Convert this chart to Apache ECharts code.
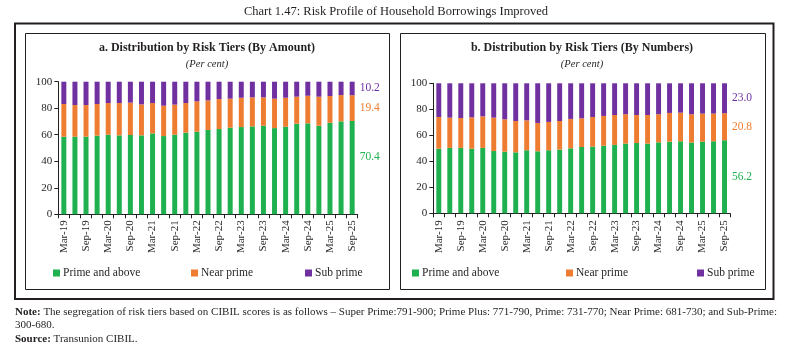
<!DOCTYPE html>
<html>
<head>
<meta charset="utf-8">
<script src="https://cdn.jsdelivr.net/npm/echarts@6/dist/echarts.min.js"></script>
<style>
html,body{margin:0;padding:0;background:#fff;}
#chart{width:792px;height:357px;}
</style>
</head>
<body>
<div id="chart"></div>
<script>
// ---- Data ----
const categories = [
  'Mar-19','Jun-19','Sep-19','Dec-19',
  'Mar-20','Jun-20','Sep-20','Dec-20',
  'Mar-21','Jun-21','Sep-21','Dec-21',
  'Mar-22','Jun-22','Sep-22','Dec-22',
  'Mar-23','Jun-23','Sep-23','Dec-23',
  'Mar-24','Jun-24','Sep-24','Dec-24',
  'Mar-25','Jun-25','Sep-25'
];
const seriesNames = ['Prime and above', 'Near prime', 'Sub prime'];

// Panel a: by amount (per cent)
const amountPrime = [58.5,58.5,58.5,59.3,60.0,59.5,59.8,59.5,61.0,59.0,60.0,61.6,62.3,63.6,64.3,65.3,65.8,66.3,66.8,65.0,66.0,68.3,68.6,66.8,69.0,70.1,70.4];
const amountNear  = [24.7,23.9,23.9,23.9,23.9,24.4,24.4,23.4,22.9,22.9,22.7,22.3,22.9,22.3,22.6,21.9,22.1,21.9,21.4,22.2,21.9,20.4,20.8,21.9,20.2,19.8,19.4];
const amountSub   = [16.8,17.6,17.6,16.8,16.1,16.1,15.8,17.1,16.1,18.1,17.3,16.1,14.8,14.1,13.1,12.8,12.1,11.8,11.8,12.8,12.1,11.3,10.6,11.3,10.8,10.1,10.2];

// Panel b: by numbers (per cent)
const numberPrime = [49.7,50.3,50.3,49.7,50.3,47.9,47.4,46.9,48.5,47.7,48.5,49.0,50.0,51.0,51.3,52.0,52.6,53.6,54.1,53.6,54.6,55.1,55.4,54.4,55.1,55.4,56.2];
const numberNear  = [24.4,23.3,23.0,24.1,24.3,25.7,24.9,24.1,23.0,21.8,21.8,22.0,22.6,22.1,22.8,22.9,23.0,22.6,21.5,22.0,21.6,22.1,22.0,21.8,21.6,21.3,20.8];
const numberSub   = [25.9,26.4,26.7,26.2,25.4,26.4,27.7,29.0,28.5,30.5,29.7,29.0,27.4,26.9,25.9,25.1,24.4,23.8,24.4,24.4,23.8,22.8,22.6,23.8,23.3,23.3,23.0];

const yTicks = [0, 20, 40, 60, 80, 100];

// ---- Styles ----
const FONT = '"Liberation Serif", "DejaVu Serif", serif';
const TXT = '#231f20';
const colors = ['#1fb04f', '#ef7d31', '#7030a0'];

function withEndLabel(arr, color, offsetY) {
  return arr.map((v, i) => {
    if (i !== arr.length - 1) return v;
    return {
      value: v,
      label: {
        show: true, position: 'right', distance: 5,
        offset: [0, offsetY || 0],
        color: color, fontFamily: FONT, fontSize: 11.5,
        formatter: p => Number(p.value).toFixed(1)
      }
    };
  });
}

function makeSeries(idx, prime, near, sub, primeOffset) {
  const stack = 's' + idx;
  const base = { type: 'bar', stack: stack, xAxisIndex: idx, yAxisIndex: idx, barWidth: '45%', animation: false };
  return [
    Object.assign({}, base, { name: seriesNames[0], data: withEndLabel(prime, colors[0], primeOffset), itemStyle: { color: colors[0] } }),
    Object.assign({}, base, { name: seriesNames[1], data: withEndLabel(near, colors[1], 0), itemStyle: { color: colors[1] } }),
    Object.assign({}, base, { name: seriesNames[2], data: withEndLabel(sub, colors[2], 0), itemStyle: { color: colors[2] } })
  ];
}

function xAxis(idx, margin) {
  return {
    type: 'category', gridIndex: idx, data: categories,
    axisLine: { lineStyle: { color: TXT, width: 1 } },
    axisTick: { show: true, interval: 0, length: 4, lineStyle: { color: TXT } },
    axisLabel: { interval: 1, rotate: 90, margin: margin, color: TXT, fontFamily: FONT, fontSize: 11 }
  };
}
function yAxis(idx) {
  return {
    type: 'value', gridIndex: idx, min: yTicks[0], max: yTicks[yTicks.length - 1], interval: yTicks[1] - yTicks[0],
    axisLine: { show: true, lineStyle: { color: TXT, width: 1 } },
    axisTick: { show: true, length: 4, lineStyle: { color: TXT } },
    splitLine: { show: false },
    axisLabel: { margin: 6, color: TXT, fontFamily: FONT, fontSize: 11 }
  };
}

function legendItem(name, left, top) {
  return {
    data: [name], left: left, top: top, icon: 'rect', itemWidth: 7, itemHeight: 7, itemGap: 0,
    padding: 0, selectedMode: false,
    textStyle: { color: TXT, fontFamily: FONT, fontSize: 11.5, padding: [0, 0, 0, -2] }
  };
}

const chart = echarts.init(document.getElementById('chart'), null, { renderer: 'canvas' });
chart.setOption({
  backgroundColor: '#fff',
  animation: false,
  grid: [
    { left: 58.3, right: 792 - 357.7, top: 81.7, bottom: 357 - 214.3 },
    { left: 433.3, right: 792 - 730, top: 83.3, bottom: 357 - 213.3 }
  ],
  xAxis: [xAxis(0, 6), xAxis(1, 7)],
  yAxis: [yAxis(0), yAxis(1)],
  legend: [
    legendItem(seriesNames[0], 53, 267),
    legendItem(seriesNames[1], 191, 267),
    legendItem(seriesNames[2], 305, 267),
    legendItem(seriesNames[0], 412, 267),
    legendItem(seriesNames[1], 566, 267),
    legendItem(seriesNames[2], 697, 267)
  ],
  series: [].concat(
    makeSeries(0, amountPrime, amountNear, amountSub, -11),
    makeSeries(1, numberPrime, numberNear, numberSub, 0)
  ),
  graphic: [
    { type: 'rect', shape: { x: 15, y: 23.5, width: 758.5, height: 275.5 }, style: { fill: 'none', stroke: TXT, lineWidth: 2 }, silent: true },
    { type: 'rect', shape: { x: 25.5, y: 33.5, width: 364, height: 256 }, style: { fill: 'none', stroke: TXT, lineWidth: 1 }, silent: true },
    { type: 'rect', shape: { x: 400.5, y: 33.5, width: 365, height: 256 }, style: { fill: 'none', stroke: TXT, lineWidth: 1 }, silent: true },
    { type: 'text', x: 396, y: 12, style: { text: 'Chart 1.47: Risk Profile of Household Borrowings Improved', fill: TXT, font: '12.5px ' + FONT, textAlign: 'center', textVerticalAlign: 'middle' } },
    { type: 'text', x: 207, y: 48, style: { text: 'a. Distribution by Risk Tiers (By Amount)', fill: TXT, font: 'bold 12px ' + FONT, textAlign: 'center', textVerticalAlign: 'middle' } },
    { type: 'text', x: 207, y: 64, style: { text: '(Per cent)', fill: TXT, font: 'italic 10.5px ' + FONT, textAlign: 'center', textVerticalAlign: 'middle' } },
    { type: 'text', x: 582, y: 48, style: { text: 'b. Distribution by Risk Tiers (By Numbers)', fill: TXT, font: 'bold 12px ' + FONT, textAlign: 'center', textVerticalAlign: 'middle' } },
    { type: 'text', x: 582, y: 64, style: { text: '(Per cent)', fill: TXT, font: 'italic 10.5px ' + FONT, textAlign: 'center', textVerticalAlign: 'middle' } },
    { type: 'text', x: 15, y: 312, style: {
        text: '{b|Note:} The segregation of risk tiers based on CIBIL scores is as follows – Super Prime:791-900; Prime Plus: 771-790, Prime: 731-770; Near Prime: 681-730; and Sub-Prime:',
        rich: { b: { font: 'bold 11px ' + FONT, fill: TXT } },
        fill: TXT, font: '11px ' + FONT, textVerticalAlign: 'middle' } },
    { type: 'text', x: 15, y: 325, style: { text: '300-680.', fill: TXT, font: '11px ' + FONT, textVerticalAlign: 'middle' } },
    { type: 'text', x: 15, y: 339, style: {
        text: '{b|Source:} Transunion CIBIL.',
        rich: { b: { font: 'bold 11px ' + FONT, fill: TXT } },
        fill: TXT, font: '11px ' + FONT, textVerticalAlign: 'middle' } }
  ]
});
</script>
</body>
</html>
